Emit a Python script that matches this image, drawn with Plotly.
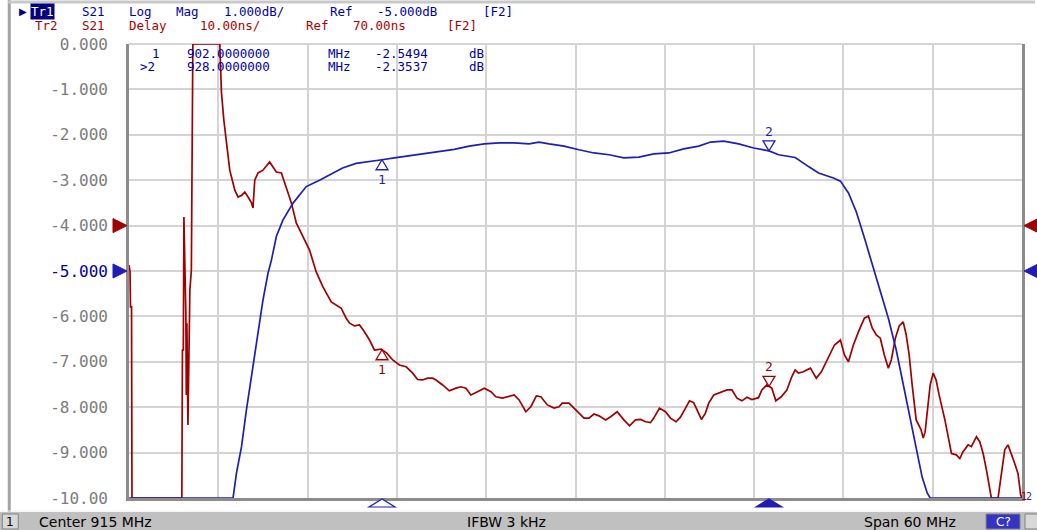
import re
import numpy as np
import plotly.graph_objects as go

# ---------------- data ----------------
center_mhz = 915.0
span_mhz = 60.0
n_div = 10

tr1_scale, tr1_ref, tr1_refpos = 1.0, -5.0, 5     # dB/div, dB, divisions from bottom
tr2_scale, tr2_ref, tr2_refpos = 10.0, 70.0, 6    # ns/div, ns, divisions from bottom

# Tr1 : S21 Log Mag (dB)  (display clips at -10 dB)
tr1_freq = [885.00, 891.99, 892.22, 892.56, 892.89, 893.33, 893.67, 894.00, 894.34, 894.57,
            894.90, 895.34, 896.01, 896.91, 897.80, 898.47, 899.35, 900.26, 901.16, 902.00,
            902.83, 903.84, 904.84, 905.85, 906.85, 907.86, 908.87, 909.87, 910.88, 911.88,
            912.55, 913.22, 914.23, 915.23, 916.24, 917.25, 918.25, 919.26, 920.26, 921.27,
            922.27, 923.28, 924.08, 924.96, 925.96, 926.97, 928.00, 928.65, 929.76, 930.66,
            931.33, 932.33, 932.80, 933.34, 933.87, 934.41, 934.94, 935.48, 936.02, 936.55,
            937.02, 937.49, 937.89, 938.29, 938.63, 938.83, 945.00]
tr1_db = [-10, -10, -9.45, -8.87, -8.06, -7.11, -6.37, -5.64, -5.05, -4.76,
          -4.24, -3.88, -3.51, -3.14, -3.00, -2.89, -2.73, -2.63, -2.58, -2.5494,
          -2.51, -2.46, -2.42, -2.36, -2.32, -2.25, -2.20, -2.18, -2.18, -2.20,
          -2.16, -2.20, -2.25, -2.33, -2.40, -2.44, -2.51, -2.49, -2.42, -2.40,
          -2.31, -2.25, -2.16, -2.14, -2.20, -2.29, -2.3537, -2.44, -2.50, -2.70,
          -2.84, -2.95, -3.02, -3.28, -3.70, -4.27, -4.87, -5.46, -6.04, -6.74,
          -7.51, -8.28, -8.94, -9.54, -9.89, -10, -10]

# Tr2 : S21 Delay (ns)  (display clips at 10 ns / 110 ns)
tr2_freq = [885.00, 885.07, 885.10, 885.17, 885.20, 888.55, 888.59, 888.65, 888.69, 888.75,
            888.82, 888.85, 888.89, 888.96, 889.02, 889.09, 889.19, 889.26, 889.29, 891.10,
            891.21, 891.37, 891.55, 891.77, 892.11, 892.33, 892.58, 892.78, 893.00, 893.23,
            893.33, 893.45, 893.67, 894.00, 894.45, 894.90, 895.24, 895.57, 895.91, 896.24,
            896.58, 897.13, 897.58, 898.03, 898.59, 898.92, 899.26, 899.59, 899.82, 900.15,
            900.49, 900.82, 901.16, 901.49, 901.94, 902.32, 902.72, 903.17, 903.62, 904.06,
            904.39, 904.73, 905.06, 905.40, 905.63, 906.07, 906.52, 906.97, 907.30, 907.64,
            907.97, 908.42, 908.87, 909.32, 909.65, 910.09, 910.43, 910.88, 911.21, 911.66,
            912.00, 912.37, 912.67, 913.11, 913.56, 913.89, 914.11, 914.56, 914.90, 915.23,
            915.57, 915.91, 916.24, 916.58, 917.02, 917.36, 917.80, 918.25, 918.63, 919.03,
            919.37, 919.71, 920.04, 920.26, 920.64, 921.05, 921.38, 921.76, 922.05, 922.39,
            922.66, 922.94, 923.23, 923.46, 923.73, 923.95, 924.29, 924.73, 925.18, 925.51,
            925.85, 926.18, 926.52, 926.85, 927.30, 927.52, 927.86, 928.19, 928.46, 928.82,
            929.20, 929.53, 929.76, 929.98, 930.31, 930.78, 931.18, 931.52, 931.99, 932.40,
            932.80, 933.07, 933.34, 933.67, 934.01, 934.41, 934.68, 934.94, 935.21, 935.48,
            935.75, 936.02, 936.22, 936.49, 936.75, 937.02, 937.22, 937.42, 937.62, 937.89,
            938.22, 938.36, 938.49, 938.63, 938.83, 939.03, 939.23, 939.43, 939.64, 939.82,
            940.04, 940.26, 940.59, 940.82, 941.04, 941.38, 941.60, 941.94, 942.16, 942.39,
            942.61, 942.94, 943.39, 943.61, 943.84, 944.06, 944.28, 944.51, 944.73, 944.91,
            945.00]
tr2_ns = [61.3, 59.8, 52.1, 52.1, 10.0, 10.0, 42.6, 42.6, 71.9, 62.0,
          50.7, 32.7, 48.5, 26.1, 48.5, 55.8, 60.2, 89.5, 110.0, 110.0,
          99.4, 93.3, 88.2, 82.2, 77.8, 76.3, 76.7, 77.4, 76.3, 75.0,
          73.9, 80.0, 81.6, 82.2, 84.0, 81.8, 81.6, 78.5, 75.0, 70.6,
          68.4, 64.6, 59.8, 56.5, 53.2, 52.5, 51.8, 49.6, 48.5, 47.9,
          48.1, 46.6, 44.8, 42.6, 42.8, 41.9, 40.4, 39.3, 38.9, 37.5,
          36.1, 36.0, 36.4, 36.4, 36.0, 34.9, 33.6, 34.2, 34.5, 34.2,
          32.7, 33.4, 34.2, 33.4, 32.3, 32.0, 32.3, 32.7, 31.6, 29.0,
          30.1, 32.5, 32.3, 30.5, 29.8, 30.1, 30.9, 30.9, 29.8, 28.7,
          27.6, 27.6, 28.5, 28.1, 27.2, 27.9, 29.0, 27.2, 25.9, 27.2,
          27.3, 26.8, 26.6, 27.6, 29.8, 29.0, 27.6, 26.8, 27.8, 29.8,
          31.4, 31.0, 29.0, 27.3, 28.7, 30.9, 32.7, 33.2, 33.8, 33.8,
          32.0, 31.4, 32.2, 31.7, 32.1, 33.8, 34.9, 34.2, 31.4, 32.3,
          33.8, 36.7, 38.2, 37.5, 37.8, 38.6, 36.4, 37.8, 40.8, 43.7,
          44.8, 41.5, 40.0, 43.7, 46.6, 49.6, 50.1, 47.4, 45.9, 45.2,
          41.5, 38.6, 40.4, 45.2, 47.9, 48.8, 45.9, 41.5, 34.9, 27.2,
          25.0, 23.2, 24.5, 28.3, 34.9, 37.5, 36.0, 32.7, 29.8, 27.2,
          23.5, 19.8, 19.5, 18.7, 20.2, 21.7, 21.3, 23.5, 22.4, 19.8,
          16.2, 10.0, 10.0, 15.4, 20.6, 21.7, 19.8, 17.6, 15.4, 10.7,
          10.0]

marker_ids = ["1", "2"]
marker_freq = [902.0, 928.0]
marker_tr1_db = [-2.5494, -2.3537]
active_marker = "2"

ytick_text = ["0.000", "-1.000", "-2.000", "-3.000", "-4.000", "-5.000",
              "-6.000", "-7.000", "-8.000", "-9.000", "-10.00"]

header_tr1 = "Tr1 S21 Log Mag 1.000dB/ Ref -5.000dB [F2]"
header_tr2 = "Tr2 S21 Delay 10.00ns/ Ref 70.00ns [F2]"
status_texts = ["Center 915 MHz", "IFBW 3 kHz", "Span 60 MHz"]

# ---------------- styling ----------------
W, H = 1037, 530
L, R, T, B = 129, 1024, 44, 498
BLUE = "#1e1eb4"
BLUE_TXT = "#0000a8"
RED = "#a00000"
RED_TXT = "#b00000"
GRID = "#d4d4d4"
FRAME = "#8c8c8c"
MONO = "DejaVu Sans Mono"
SANS = "DejaVu Sans"
CW = 11.8  # column width of the analyzer's fixed font


def px(x):
    return (x - L) / (R - L)


def py(y):
    return (B - y) / (B - T)


f_start = center_mhz - span_mhz / 2
f_stop = center_mhz + span_mhz / 2
tr1_range = [tr1_ref - tr1_refpos * tr1_scale, tr1_ref + (n_div - tr1_refpos) * tr1_scale]
tr2_range = [tr2_ref - tr2_refpos * tr2_scale, tr2_ref + (n_div - tr2_refpos) * tr2_scale]
tr1_ticks = list(np.linspace(tr1_range[1], tr1_range[0], n_div + 1))
tr2_ticks = list(np.linspace(tr2_range[0], tr2_range[1], n_div + 1))
x_ticks = list(np.linspace(f_start, f_stop, n_div + 1))

fig = go.Figure()
fig.add_trace(go.Scatter(x=tr2_freq, y=tr2_ns, mode="lines", yaxis="y",
                         line=dict(color=RED, width=1.7), hoverinfo="skip", showlegend=False))
fig.add_trace(go.Scatter(x=tr1_freq, y=tr1_db, mode="lines", yaxis="y2",
                         line=dict(color=BLUE, width=1.7), hoverinfo="skip", showlegend=False))

ticktext = [f'<span style="color:{BLUE_TXT}">{t}</span>' if abs(v - tr1_ref) < 1e-9 else t
            for v, t in zip(tr1_ticks, ytick_text)]

fig.update_layout(
    width=W, height=H, autosize=False,
    margin=dict(l=L, r=W - R, t=T, b=H - B, pad=0),
    paper_bgcolor="white", plot_bgcolor="white",
    showlegend=False,
    xaxis=dict(range=[f_start, f_stop], tickvals=x_ticks, showticklabels=False, ticks="",
               showgrid=True, gridcolor=GRID, gridwidth=2, zeroline=False,
               showline=True, linecolor=FRAME, linewidth=3, mirror=False, layer="below traces"),
    yaxis=dict(range=tr2_range, tickvals=tr2_ticks, showticklabels=False, ticks="",
               showgrid=True, gridcolor=GRID, gridwidth=2, zeroline=False,
               showline=True, linecolor=FRAME, linewidth=3, mirror=True, layer="below traces"),
    yaxis2=dict(range=tr1_range, overlaying="y", side="left", tickvals=tr1_ticks,
                ticktext=ticktext, ticks="", showgrid=False, zeroline=False, showline=False,
                tickfont=dict(family=MONO, size=16, color="#7c7c7c"), ticklabelstandoff=20),
)

shapes = []
ann = []

# top plot border (light)
shapes.append(dict(type="line", xref="paper", yref="paper", x0=0, x1=1, y0=1, y1=1,
                   line=dict(color=GRID, width=2), layer="below"))
# outer window frame
shapes.append(dict(type="line", xref="paper", yref="paper", x0=px(9), x1=px(9), y0=py(0), y1=py(512),
                   line=dict(color="#a4a4a4", width=3)))
shapes.append(dict(type="line", xref="paper", yref="paper", x0=px(8), x1=px(W), y0=py(2), y1=py(2),
                   line=dict(color="#c8c8c8", width=3)))

# reference position arrows (left and right)
for yref, val, col in [("y", tr2_ref, RED), ("y2", tr1_ref, BLUE)]:
    shapes.append(dict(type="path", xref="paper", yref=yref, xsizemode="pixel", ysizemode="pixel",
                       xanchor=0, yanchor=val, path="M -2,0 L -16,7 L -16,-7 Z",
                       fillcolor=col, line=dict(color=col, width=1)))
    shapes.append(dict(type="path", xref="paper", yref=yref, xsizemode="pixel", ysizemode="pixel",
                       xanchor=1, yanchor=val, path="M 2,0 L 16,7 L 16,-7 Z",
                       fillcolor=col, line=dict(color=col, width=1)))

# markers on traces
tr2_marker_vals = list(np.interp(marker_freq, tr2_freq, tr2_ns))
for mid, mf, v1, v2 in zip(marker_ids, marker_freq, marker_tr1_db, tr2_marker_vals):
    for yref, val, col in [("y2", v1, BLUE), ("y", v2, RED)]:
        if mid == active_marker:
            path = "M 0,0 L -6,10 L 6,10 Z"
            shift, yanch = 10, "bottom"
        else:
            path = "M 0,0 L -6,-10 L 6,-10 Z"
            shift, yanch = -10, "top"
        shapes.append(dict(type="path", xref="x", yref=yref, xsizemode="pixel", ysizemode="pixel",
                           xanchor=mf, yanchor=val, path=path, fillcolor="rgba(255,255,255,0.6)",
                           line=dict(color=col, width=1.3)))
        ann.append(dict(x=mf, y=val, xref="x", yref=yref, text=mid, showarrow=False,
                        yanchor=yanch, xanchor="center", yshift=shift,
                        font=dict(family=MONO, size=13, color=col)))
    # stimulus marker below the axis
    filled = mid == active_marker
    shapes.append(dict(type="path", xref="x", yref="paper", xsizemode="pixel", ysizemode="pixel",
                       xanchor=mf, yanchor=0, path="M -13,-9 L 13,-9 L 0,-1 Z",
                       fillcolor=BLUE if filled else "white", line=dict(color=BLUE, width=1.2)))

# out-of-range marker indicators at lower right
ann.append(dict(x=px(1031), y=py(496), xref="paper", yref="paper", text="1", showarrow=False,
                xanchor="right", yanchor="middle", font=dict(family=MONO, size=10, color=RED)))
ann.append(dict(x=px(1036), y=py(496), xref="paper", yref="paper", text="2", showarrow=False,
                xanchor="right", yanchor="middle", font=dict(family=MONO, size=10, color=BLUE)))


def mono_tokens(s, x0, ycen, color, size=12.5, skip_first=False):
    for i, m in enumerate(re.finditer(r"\S+", s)):
        if skip_first and i == 0:
            continue
        ann.append(dict(x=px(x0 + m.start() * CW), y=py(ycen), xref="paper", yref="paper",
                        text=m.group(0), showarrow=False, xanchor="left", yanchor="middle",
                        font=dict(family=MONO, size=size, color=color)))


# header
ann.append(dict(x=px(17), y=py(12), xref="paper", yref="paper", text="▶", showarrow=False,
                xanchor="left", yanchor="middle", font=dict(family=SANS, size=10, color="#000080")))
ann.append(dict(x=px(30), y=py(12), xref="paper", yref="paper", text=header_tr1.split()[0],
                showarrow=False, xanchor="left", yanchor="middle", bgcolor="#000080",
                borderpad=0, font=dict(family=MONO, size=12.5, color="white")))
mono_tokens(header_tr1, 33, 12, BLUE_TXT, skip_first=True)
mono_tokens(header_tr2, 33, 25, RED_TXT)

# marker table
for k, (mid, mf, mv) in enumerate(zip(marker_ids, marker_freq, marker_tr1_db)):
    line = f"{'>' if mid == active_marker else ' '}{mid}  {mf:.7f} MHz {mv:.4f} dB"
    mono_tokens(line, 137.8, 53.5 + 13 * k, BLUE_TXT)

# status bar
shapes.append(dict(type="rect", xref="paper", yref="paper", x0=px(-2), x1=px(W + 2), y0=py(512), y1=py(H + 2),
                   fillcolor="#c0c0c0", line=dict(width=0), layer="above"))
shapes.append(dict(type="line", xref="paper", yref="paper", x0=px(0), x1=px(W), y0=py(511), y1=py(511),
                   line=dict(color="#f0f0f0", width=1)))
shapes.append(dict(type="rect", xref="paper", yref="paper", x0=px(2), x1=px(18), y0=py(514), y1=py(529),
                   fillcolor="#d8d8d8", line=dict(color="#808080", width=1)))
shapes.append(dict(type="rect", xref="paper", yref="paper", x0=px(988), x1=px(1022), y0=py(514), y1=py(529),
                   fillcolor="#3434c4", line=dict(color="#808080", width=1)))
shapes.append(dict(type="rect", xref="paper", yref="paper", x0=px(1027), x1=px(1040), y0=py(514), y1=py(529),
                   fillcolor="#d8d8d8", line=dict(color="#808080", width=1)))
ann.append(dict(x=px(10), y=py(521.5), xref="paper", yref="paper", text="1", showarrow=False,
                xanchor="center", yanchor="middle", font=dict(family=SANS, size=12, color="black")))
for txt, x0 in zip(status_texts, [37, 466, 864]):
    ann.append(dict(x=px(x0), y=py(521.5), xref="paper", yref="paper", text=txt, showarrow=False,
                    xanchor="left", yanchor="middle", font=dict(family=SANS, size=14, color="black")))
ann.append(dict(x=px(1005), y=py(521.5), xref="paper", yref="paper", text="C?", showarrow=False,
                xanchor="center", yanchor="middle", font=dict(family=SANS, size=12, color="white")))

fig.update_layout(shapes=shapes, annotations=ann)
fig.write_html("out.html", config={"displayModeBar": False},
               post_script="document.body.style.margin='0px';document.body.style.overflow='hidden';")
